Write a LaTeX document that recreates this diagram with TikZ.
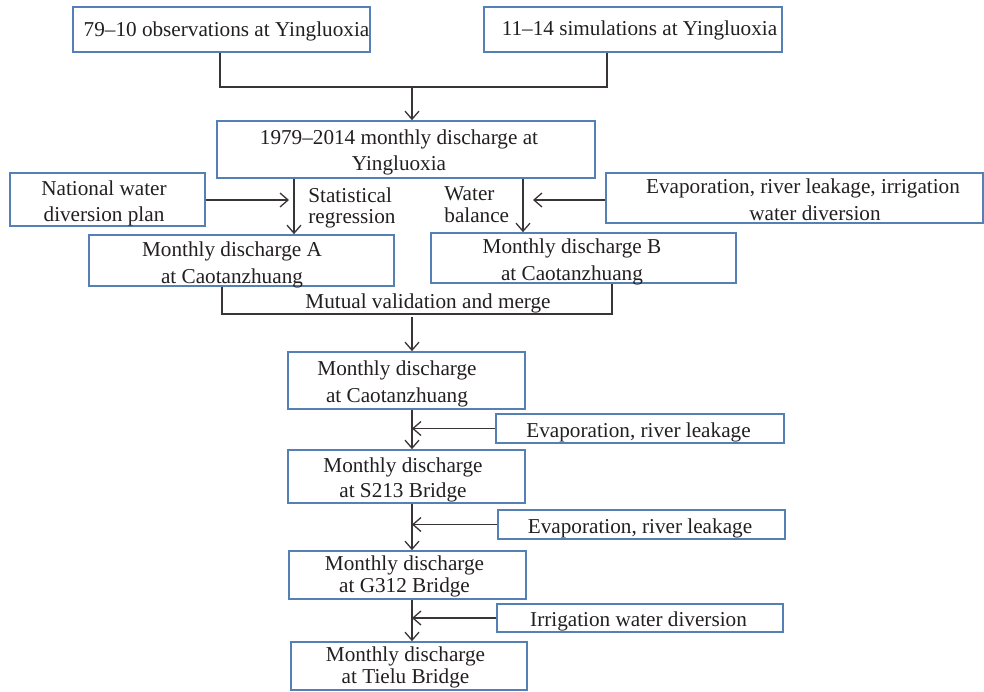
\documentclass[tikz,border=0pt]{standalone}
\usepackage{fontspec}
\setmainfont{Liberation Serif}
\usetikzlibrary{arrows.meta}
\definecolor{boxblue}{RGB}{84,128,182}
\definecolor{ink}{RGB}{35,31,32}
\begin{document}
\begin{tikzpicture}[x=0.5pt,y=-0.5pt,
  box/.style={draw=boxblue, line width=0.85pt, rectangle, inner sep=0pt},
  txt/.style={text=ink, align=center, inner sep=0pt, anchor=base,
    font=\fontsize{10.6}{13.5}\selectfont},
  lbl/.style={text=ink, align=left, inner sep=0pt, anchor=base west},
  conn/.style={draw=ink!90, line width=0.65pt},
  arr/.style={conn, -{Straight Barb[length=4pt,width=7pt]}}]
\useasboundingbox (0,0) rectangle (984,691);

% boxes
\node[box, minimum width=148.5pt, minimum height=22.5pt] (obs) at (221.5,29.5) {};
\node[box, minimum width=149pt, minimum height=22.5pt] (sim) at (633,29.5) {};
\node[box, minimum width=189pt, minimum height=28.5pt] (y1979) at (406,149.5) {};
\node[box, minimum width=97.5pt, minimum height=26.5pt] (nwd) at (107.5,199.5) {};
\node[box, minimum width=188.5pt, minimum height=25pt] (evap1) at (794.5,198) {};
\node[box, minimum width=152.5pt, minimum height=25.5pt] (A) at (241.5,260.5) {};
\node[box, minimum width=152.5pt, minimum height=25pt] (B) at (583.5,258) {};
\node[box, minimum width=118.5pt, minimum height=28.5pt] (caot) at (406.5,380.5) {};
\node[box, minimum width=144pt, minimum height=14.5pt] (ev2) at (640,428.5) {};
\node[box, minimum width=118.5pt, minimum height=26.5pt] (s213) at (406.5,476.5) {};
\node[box, minimum width=143.5pt, minimum height=14.5pt] (ev3) at (641.5,524.5) {};
\node[box, minimum width=118.5pt, minimum height=24pt] (g312) at (407.5,575) {};
\node[box, minimum width=143pt, minimum height=14pt] (ev4) at (640,618) {};
\node[box, minimum width=118pt, minimum height=24pt] (tielu) at (409,666) {};

% box texts (anchor base = baseline of the last line)
\node[txt] (obsT) at (226.5,36) {79--10 observations at Yingluoxia};
\node[txt] (simT) at (639.5,35) {11--14 simulations at Yingluoxia};
\node[txt, font=\fontsize{10.6}{13}\selectfont] (y1979T) at (399,170) {1979--2014 monthly discharge at\\Yingluoxia};
\node[txt, font=\fontsize{10.6}{13}\selectfont] (nwdT) at (104,221) {National water\\diversion plan};
\node[txt] (evap1T) at (803,220) {Evaporation, river leakage, irrigation\\\hspace*{12pt}water diversion};
\node[txt] (AT) at (232,283) {Monthly discharge A\\at Caotanzhuang};
\node[txt] (BT) at (572,280) {Monthly discharge B\\at Caotanzhuang};
\node[txt] (caotT) at (397,402) {Monthly discharge\\at Caotanzhuang};
\node[txt] (ev2T) at (638.5,437) {Evaporation, river leakage};
\node[txt, font=\fontsize{10.6}{12.5}\selectfont] (s213T) at (403,497) {Monthly discharge\\at S213 Bridge};
\node[txt] (ev3T) at (640,533) {Evaporation, river leakage};
\node[txt, font=\fontsize{10.6}{11}\selectfont] (g312T) at (404.5,592) {Monthly discharge\\at G312 Bridge};
\node[txt] (ev4T) at (638.5,626) {Irrigation water diversion};
\node[txt, font=\fontsize{10.6}{11}\selectfont] (tieluT) at (405.5,683) {Monthly discharge\\at Tielu Bridge};

% connector labels
\node[lbl, font=\fontsize{10.6}{10.5}\selectfont] (stat) at (308,223) {Statistical\\regression};
\node[lbl, font=\fontsize{10.6}{11}\selectfont] (wb) at (444,222) {Water\\balance};
\node[txt] (mv) at (428,308) {Mutual validation and merge};

% coordinates
\coordinate (c1) at (220,87);
\coordinate (c2) at (607,87);
\coordinate (j1) at (412,87);
\coordinate (s1) at (294,0);
\coordinate (s2) at (523,0);
\coordinate (n1) at (289,200);
\coordinate (e1) at (533,200);
\coordinate (m1) at (222,314);
\coordinate (m2) at (612,314);
\coordinate (m3) at (412,317);
\coordinate (ax) at (412,0);

% connectors
\draw[conn] (obs.south -| c1) -- (c1) -- (c2) -- (sim.south -| c2);
\draw[arr] (j1) -- (y1979.north -| j1);
\draw[arr] (y1979.south -| s1) -- (A.north -| s1);
\draw[arr] (y1979.south -| s2) -- (B.north -| s2);
\draw[arr] (nwd.east |- n1) -- (n1);
\draw[arr] (evap1.west |- e1) -- (e1);
\draw[conn] (A.south -| m1) -- (m1) -- (m2) -- (B.south -| m2);
\draw[arr] (m3) -- (caot.north -| m3);
\draw[arr] (caot.south -| ax) -- (s213.north -| ax);
\draw[arr] (s213.south -| ax) -- (g312.north -| ax);
\draw[arr] (g312.south -| ax) -- (tielu.north -| ax);
\draw[arr] (ev2.west) -- (ev2.west -| ax);
\draw[arr] (ev3.west) -- (ev3.west -| ax);
\draw[arr] (ev4.west) -- (ev4.west -| ax);
\end{tikzpicture}
\end{document}
